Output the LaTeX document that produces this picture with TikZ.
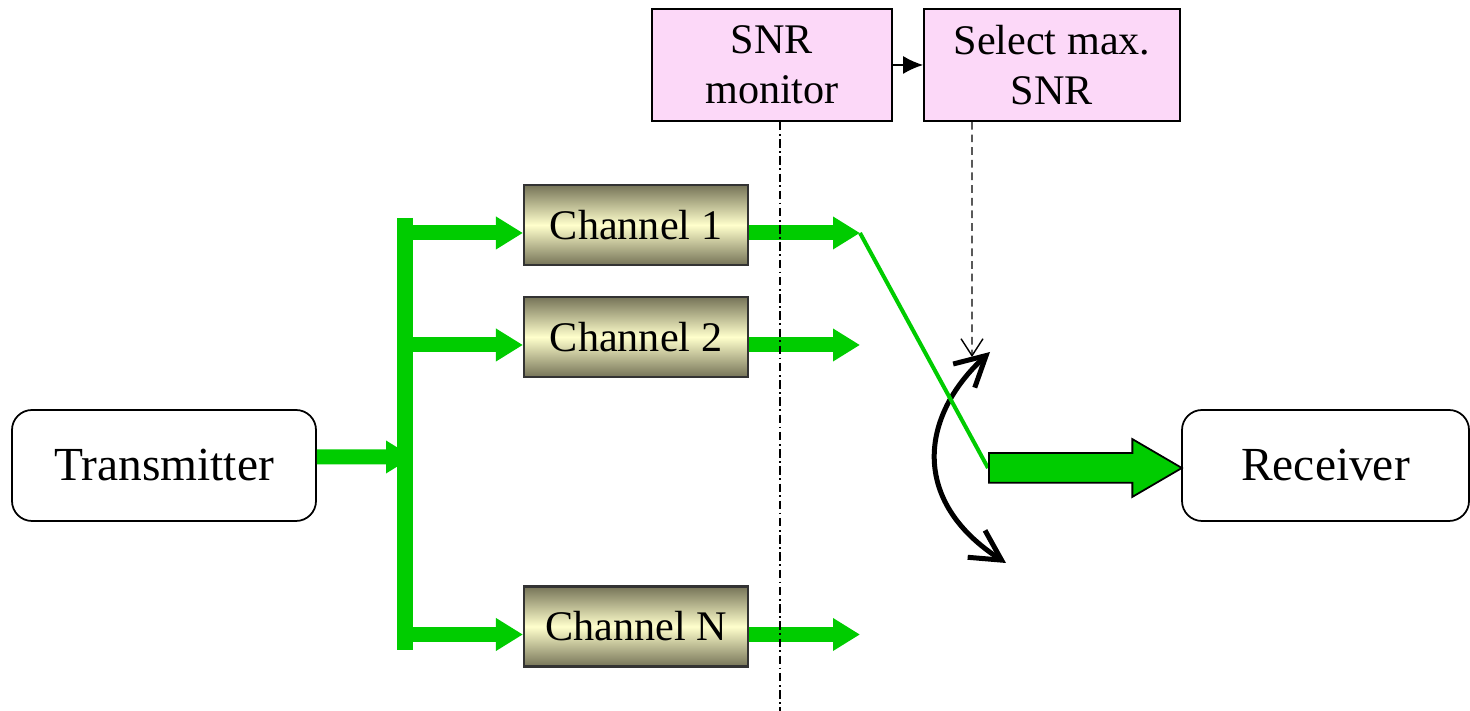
\documentclass[tikz,border=0pt]{standalone}
\usepackage{fontspec}
\setmainfont{Liberation Serif}
\usetikzlibrary{shapes,arrows,arrows.meta}
\definecolor{sig}{RGB}{0,204,0}
\definecolor{monpink}{RGB}{252,216,248}
\definecolor{chdark}{RGB}{118,116,88}
\definecolor{chlight}{RGB}{255,255,204}
\tikzstyle{term} = [rectangle, draw, rounded corners=0.2cm, line width=0.5pt,
minimum height=1.11cm, text centered, font=\fontsize{13.5}{16}\selectfont]
\tikzstyle{channel} = [rectangle, draw=black!80, line width=0.6pt, top color=chdark,
bottom color=chdark, middle color=chlight, minimum width=2.24cm, minimum height=0.8cm,
font=\fontsize{12}{14}\selectfont]
\tikzstyle{monitor} = [rectangle, draw, fill=monpink, line width=0.5pt,
minimum height=1.12cm, align=center, font=\fontsize{12}{14.2}\selectfont]
\tikzstyle{big} = [single arrow, draw, fill=sig, line width=0.5pt, inner xsep=0pt,
inner ysep=0.14cm, minimum width=0.56cm, minimum height=1.93cm,
single arrow head extend=0.14cm, single arrow tip angle=60.5, single arrow head indent=0pt]
\tikzstyle{feed} = [draw=sig, line width=0.15cm, -{Triangle[length=0.27cm, width=0.31cm]}]
\tikzstyle{bus} = [draw=sig, line width=0.16cm]
\tikzstyle{line} = [draw, line width=0.5pt, -{Latex[length=2mm, width=1.8mm]}]

\begin{document}
\begin{tikzpicture}
\useasboundingbox (0,0) rectangle (14.70,7.11);
% Place nodes
\node [term, minimum width=3.04cm] (tx) at (1.64,2.455) {Transmitter};
\node [term, minimum width=2.87cm, right of=tx, node distance=11.615cm] (rx) {Receiver};
\node [channel] (ch1) at (6.36,4.86) {Channel 1};
\node [channel, below of=ch1, node distance=1.12cm] (ch2) {Channel 2};
\node [channel, below of=ch2, node distance=2.895cm] (chn) {Channel N};
\node [monitor, minimum width=2.40cm] (snr) at (7.72,6.46) {SNR\\monitor};
\node [monitor, minimum width=2.56cm, right of=snr, node distance=2.8cm] (sel) {Select max.\\SNR};
% Helper points
\coordinate (busin) at (4.13,2.54);
\coordinate (bustop) at (4.05,4.93);
\coordinate (busbot) at (4.05,0.61);
\coordinate [right of=ch1, node distance=2.24cm, yshift=-0.08cm] (out1);
\coordinate [right of=ch2, node distance=2.24cm, yshift=-0.08cm] (out2);
\coordinate [right of=chn, node distance=2.24cm, yshift=-0.08cm] (outn);
\coordinate (sw) at (9.88,2.43);
\coordinate (swtop) at (9.90,3.59);
\coordinate (swbot) at (10.06,1.48);
\coordinate (ctl) at (9.72,3.54);
\coordinate (probe) at (7.80,0);
% Draw edges
\path [feed] ([yshift=0.085cm]tx.east) -- (busin);
\path [feed] (bustop |- out1) -- ([yshift=-0.08cm]ch1.west);
\path [feed] (bustop |- out2) -- ([yshift=-0.08cm]ch2.west);
\path [feed] (bustop |- outn) -- ([yshift=-0.08cm]chn.west);
\path [bus] (bustop) -- (busbot);
\path [feed] ([yshift=-0.08cm]ch1.east) -- (out1);
\path [feed] ([yshift=-0.08cm]ch2.east) -- (out2);
\path [feed] ([yshift=-0.08cm]chn.east) -- (outn);
\path [draw, line width=0.05cm, line cap=round,
  {Straight Barb[length=3mm, width=3.2mm]}-{Straight Barb[length=3mm, width=3.2mm]}]
  (swtop) .. controls (9.2,2.95) and (9.1,2.1) .. (swbot);
\path [draw=sig, line width=0.04cm] (out1) -- (sw);
\node [big, anchor=tail] (fat) at (sw) {};
\path [line] (snr) -- (sel);
\path [draw, line width=0.5pt, dash pattern=on 2.4pt off 1pt on 0.5pt off 1pt]
  ([xshift=0.08cm]snr.south) -- (probe);
\path [draw, line width=0.4pt, dash pattern=on 2.2pt off 1.4pt,
  -{Straight Barb[length=1.7mm, width=2.2mm]}] ([xshift=-0.80cm]sel.south) -- (ctl);
\end{tikzpicture}
\end{document}
